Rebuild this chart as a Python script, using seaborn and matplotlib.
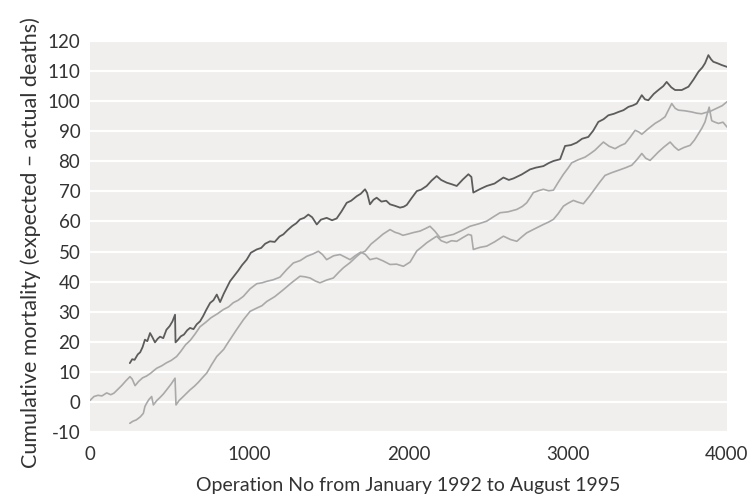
import matplotlib
matplotlib.use("Agg")
import matplotlib.pyplot as plt
import seaborn as sns
import pandas as pd

# Cumulative mortality (expected - actual deaths) by operation number.
# Dark series
dark_ops = [250, 265, 280, 300, 315, 330, 345, 360, 377, 392, 408, 425, 440, 460, 480, 500,
            518, 534, 537, 550, 570, 590, 610, 628, 650, 670, 691, 710, 730, 754, 775, 796,
            817, 840, 860, 879, 905, 930, 955, 984, 1010, 1047, 1075, 1100, 1130, 1160, 1190,
            1214, 1240, 1270, 1295, 1319, 1345, 1371, 1395, 1424, 1450, 1486, 1520, 1549, 1580,
            1612, 1640, 1675, 1700, 1727, 1740, 1758, 1780, 1800, 1830, 1860, 1884, 1915, 1947,
            1970, 1989, 2020, 2052, 2080, 2114, 2145, 2177, 2205, 2240, 2270, 2303, 2340, 2376,
            2395, 2407, 2450, 2491, 2540, 2596, 2630, 2659, 2710, 2763, 2800, 2847, 2880, 2910,
            2952, 2968, 2983, 3020, 3056, 3090, 3129, 3160, 3192, 3225, 3255, 3290, 3318, 3350,
            3381, 3410, 3433, 3465, 3485, 3506, 3540, 3569, 3600, 3621, 3650, 3674, 3716, 3758,
            3790, 3821, 3845, 3862, 3883, 3900, 3914, 3940, 3967, 4000]
dark_vals = [12.9, 14.2, 14.0, 15.8, 16.5, 18.2, 20.7, 20.2, 22.9, 21.5, 19.8, 21.0, 21.7, 21.2, 24.0, 25.2,
             26.8, 29.0, 19.8, 20.5, 21.8, 22.4, 23.8, 24.6, 24.2, 25.8, 26.8, 28.5, 30.6, 32.9, 33.8, 35.7,
             33.2, 36.0, 38.1, 40.1, 41.9, 43.6, 45.5, 47.3, 49.6, 50.7, 51.2, 52.6, 53.4, 53.2, 55.0,
             55.7, 57.1, 58.5, 59.4, 60.7, 61.2, 62.3, 61.4, 59.0, 60.6, 61.2, 60.4, 61.0, 63.4,
             66.2, 66.9, 68.4, 69.2, 70.7, 69.5, 65.7, 67.2, 67.9, 66.6, 66.9, 65.7, 65.2, 64.6,
             64.9, 65.5, 67.8, 70.1, 70.6, 71.8, 73.6, 75.1, 73.8, 72.9, 72.4, 71.8, 73.9, 75.7,
             74.8, 69.6, 70.8, 71.8, 72.6, 74.6, 73.8, 74.3, 75.6, 77.3, 77.9, 78.4, 79.4, 80.1,
             80.7, 83.0, 85.1, 85.4, 86.2, 87.5, 88.1, 90.2, 93.1, 94.0, 95.3, 95.8, 96.4, 97.0,
             98.1, 98.6, 99.2, 102.0, 100.6, 100.3, 102.4, 103.7, 105.0, 106.4, 104.6, 103.7, 103.7, 104.8,
             107.2, 109.8, 111.2, 112.6, 115.3, 113.9, 113.1, 112.6, 112.0, 111.4]

# Light series starting at operation 0
light_a_ops = [0, 25, 50, 75, 105, 130, 150, 175, 200, 225, 251, 265, 283, 305, 330, 355, 380, 400,
               419, 450, 480, 510, 544, 570, 600, 630, 660, 691, 725, 760, 800, 837, 870, 900, 930,
               963, 1005, 1047, 1080, 1110, 1150, 1193, 1235, 1277, 1320, 1361, 1400, 1434, 1460,
               1486, 1530, 1570, 1600, 1633, 1665, 1700, 1730, 1758, 1780, 1800, 1840, 1884, 1925,
               1968, 2010, 2052, 2085, 2114, 2145, 2177, 2205, 2240, 2270, 2303, 2340, 2376, 2395,
               2407, 2450, 2491, 2540, 2596, 2640, 2680, 2710, 2742, 2790, 2847, 2880, 2910, 2940,
               2973, 3000, 3035, 3065, 3098, 3135, 3171, 3200, 3234, 3275, 3318, 3360, 3402, 3435,
               3465, 3490, 3517, 3545, 3569, 3605, 3643, 3670, 3695, 3730, 3768, 3795, 3821, 3842,
               3862, 3876, 3888, 3904, 3925, 3946, 3975, 4000]
light_a_vals = [0.5, 1.8, 2.2, 2.0, 3.0, 2.4, 2.9, 4.2, 5.5, 7.0, 8.4, 7.6, 5.4, 6.8, 8.0, 8.6, 9.5, 10.4,
                11.2, 12.0, 13.0, 13.8, 15.1, 16.8, 19.0, 20.5, 22.6, 25.0, 26.4, 28.0, 29.3, 30.7, 31.6, 33.0, 33.8,
                35.1, 37.6, 39.3, 39.6, 40.1, 40.6, 41.5, 44.0, 46.2, 47.0, 48.4, 49.2, 50.1, 49.0,
                47.3, 48.6, 49.0, 48.2, 47.3, 48.6, 49.8, 49.0, 47.3, 47.6, 47.8, 46.9, 45.7, 45.8,
                45.1, 46.5, 50.2, 51.6, 52.9, 54.0, 55.1, 53.6, 52.9, 53.6, 53.4, 54.6, 55.7, 55.4,
                50.7, 51.4, 51.8, 53.2, 55.1, 54.0, 53.4, 54.8, 56.2, 57.5, 59.0, 59.8, 60.7, 62.6,
                65.1, 66.0, 67.0, 66.4, 65.9, 68.3, 70.9, 73.0, 75.3, 76.2, 77.0, 77.8, 78.7, 80.6,
                82.6, 81.0, 80.3, 81.8, 83.1, 84.8, 86.4, 84.8, 83.7, 84.6, 85.3, 87.0, 89.2, 91.0,
                93.1, 95.8, 98.0, 93.5, 93.0, 92.6, 93.0, 91.4]

# Light series starting at operation 250
light_b_ops = [250, 270, 290, 315, 335, 345, 356, 370, 387, 398, 420, 440, 460, 481, 510, 534, 540,
               560, 580, 605, 628, 655, 680, 705, 733, 765, 796, 820, 840, 860, 879, 920, 963, 1005,
               1047, 1080, 1110, 1160, 1214, 1265, 1319, 1350, 1382, 1415, 1444, 1485, 1528, 1560,
               1591, 1635, 1675, 1700, 1727, 1765, 1800, 1840, 1884, 1915, 1940, 1965, 1989, 2030,
               2072, 2105, 2135, 2165, 2198, 2240, 2282, 2335, 2386, 2440, 2491, 2535, 2575, 2625,
               2680, 2715, 2742, 2765, 2784, 2815, 2847, 2880, 2910, 2940, 2973, 3000, 3025, 3065,
               3109, 3140, 3171, 3200, 3224, 3260, 3297, 3330, 3360, 3392, 3423, 3445, 3465, 3505,
               3548, 3580, 3611, 3630, 3653, 3675, 3695, 3735, 3779, 3810, 3841, 3865, 3890, 3930,
               3970, 4000]
light_b_vals = [-7.1, -6.4, -6.0, -5.0, -3.8, -1.5, -0.4, 0.8, 1.8, -1.0, 0.5, 1.5, 2.6, 4.0, 6.0, 7.9, -1.0,
                0.5, 1.5, 2.8, 4.0, 5.2, 6.5, 8.0, 9.6, 12.5, 15.1, 16.4, 17.5, 19.2, 20.7, 24.0, 27.3, 30.1,
                31.2, 32.0, 33.4, 35.0, 37.3, 39.6, 41.8, 41.6, 41.2, 40.2, 39.6, 40.5, 41.2, 43.0,
                44.6, 46.4, 48.4, 49.5, 50.1, 52.5, 54.0, 55.8, 57.3, 56.4, 56.0, 55.4, 55.7, 56.3,
                56.8, 57.6, 58.4, 56.8, 54.6, 55.2, 55.7, 57.0, 58.4, 59.2, 60.1, 61.6, 62.9, 63.2,
                64.0, 65.0, 66.2, 68.0, 69.6, 70.2, 70.7, 70.2, 70.4, 73.0, 75.7, 77.6, 79.5, 80.5,
                81.4, 82.5, 83.7, 85.2, 86.4, 85.0, 84.2, 85.2, 85.9, 88.0, 90.3, 89.8, 89.0, 90.8,
                92.6, 93.6, 94.8, 96.8, 99.2, 97.6, 97.0, 96.8, 96.4, 96.0, 95.8, 96.2, 96.5, 97.5,
                98.5, 99.8]

x_ticks = [0, 1000, 2000, 3000, 4000]
y_ticks = list(range(-10, 121, 10))

x_label = "Operation No from January 1992 to August 1995"
y_label = "Cumulative mortality (expected \u2013 actual deaths)"

sns.set_theme(style="darkgrid")
plt.rcParams["font.family"] = ["Lato", "DejaVu Sans"]
plt.rcParams["axes.unicode_minus"] = False
text_color = "#333333"

fig = plt.figure(figsize=(7.52, 5.03), dpi=100)
ax = fig.add_axes([90 / 752, 1 - 432 / 503, 637 / 752, 391 / 503])
ax.set_facecolor("#f0efed")

light_color = "#a9a9a9"
dark_color = "#5c5c5c"
sns.lineplot(x=light_a_ops, y=light_a_vals, ax=ax, color=light_color, linewidth=1.2)
sns.lineplot(x=light_b_ops, y=light_b_vals, ax=ax, color=light_color, linewidth=1.2)
sns.lineplot(x=dark_ops, y=dark_vals, ax=ax, color=dark_color, linewidth=1.3)

ax.set_xlim(0, 4000)
ax.set_ylim(-10, 120)
ax.set_xticks(x_ticks)
ax.set_yticks(y_ticks)
ax.grid(False)
ax.grid(axis="y", color="white", linewidth=1.6)
ax.set_axisbelow(True)
for spine in ax.spines.values():
    spine.set_visible(False)

ax.tick_params(axis="x", direction="in", length=5, width=1, color="white",
               pad=10, labelsize=13.5, labelcolor=text_color)
ax.tick_params(axis="y", length=0, pad=7, labelsize=13.5, labelcolor=text_color)

ax.set_xlabel(x_label, fontsize=14, color=text_color, labelpad=10)
ax.set_ylabel(y_label, fontsize=15.5, color=text_color)
ax.yaxis.set_label_coords(-0.077, 0.484)

fig.savefig("out.png", dpi=100)
